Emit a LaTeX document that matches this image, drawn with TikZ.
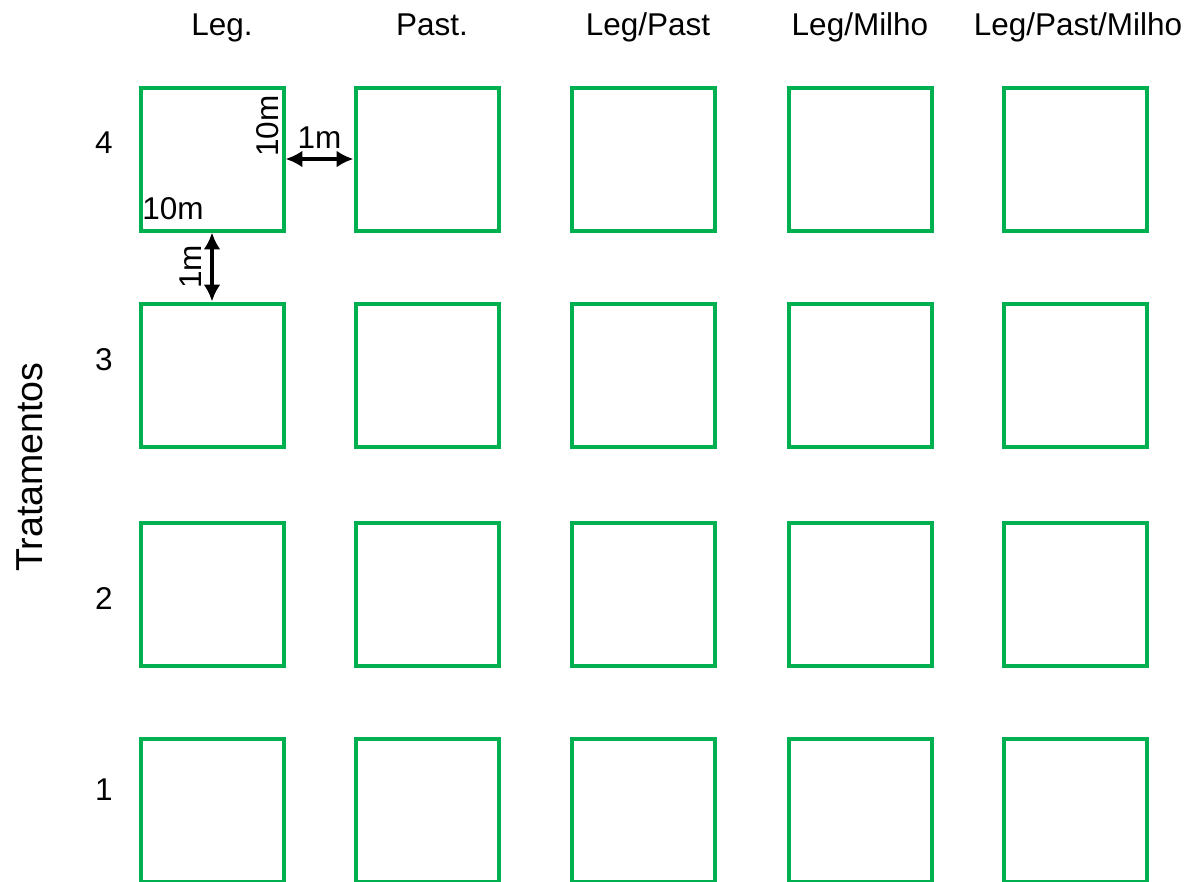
\documentclass[tikz,border=0pt]{standalone}
\usepackage{fontspec}
\setmainfont{Liberation Sans}
\usetikzlibrary{arrows.meta}
\definecolor{plotgreen}{RGB}{0,176,80}

\begin{document}
\begin{tikzpicture}[x=0.25mm,y=-0.25mm,
    plot/.style={draw=plotgreen,line width=1mm,minimum size=35.75mm,inner sep=0pt},
    lab/.style={font=\fontsize{22.4}{26}\selectfont,inner sep=0pt},
    gap/.style={{Latex[length=4.2mm,width=4.2mm]}-{Latex[length=4.2mm,width=4.2mm]},line width=1mm}]
  \useasboundingbox (0,0) rectangle (1197,881);
  % parcelas
  \foreach \c/\x in {1/212,2/427,3/643,4/860,5/1075}
    \foreach \r/\y in {4/159,3/375,2/594,1/810}
      \node[plot] (sq\r\c) at (\x,\y) {};
  % tratamentos
  \node[lab,anchor=base] (h1) at (222,35) {Leg.};
  \node[lab,anchor=base] (h2) at (432,35) {Past.};
  \node[lab,anchor=base] (h3) at (648,35) {Leg/Past};
  \node[lab,anchor=base] (h4) at (860,35) {Leg/Milho};
  \node[lab,anchor=base] (h5) at (1078,35) {Leg/Past/Milho};
  \foreach \r/\y in {4/143,3/360,2/598,1/790}
    \node[lab] (r\r) at (104,\y) {\r};
  \node[lab,font=\fontsize{26.7}{30}\selectfont,rotate=90] (eixo) at (30,467) {Tratamentos};
  % medidas
  \node[lab,rotate=90] (lado) at (268,126) {10m};
  \node[lab] (base) at (173,209) {10m};
  \draw[gap] (sq41.east) -- node[lab,above=6pt] (dx) {1m} (sq42.west);
  \draw[gap] (sq41.south) -- node[lab,rotate=90,above=6pt] (dy) {1m} (sq31.north);
\end{tikzpicture}
\end{document}
